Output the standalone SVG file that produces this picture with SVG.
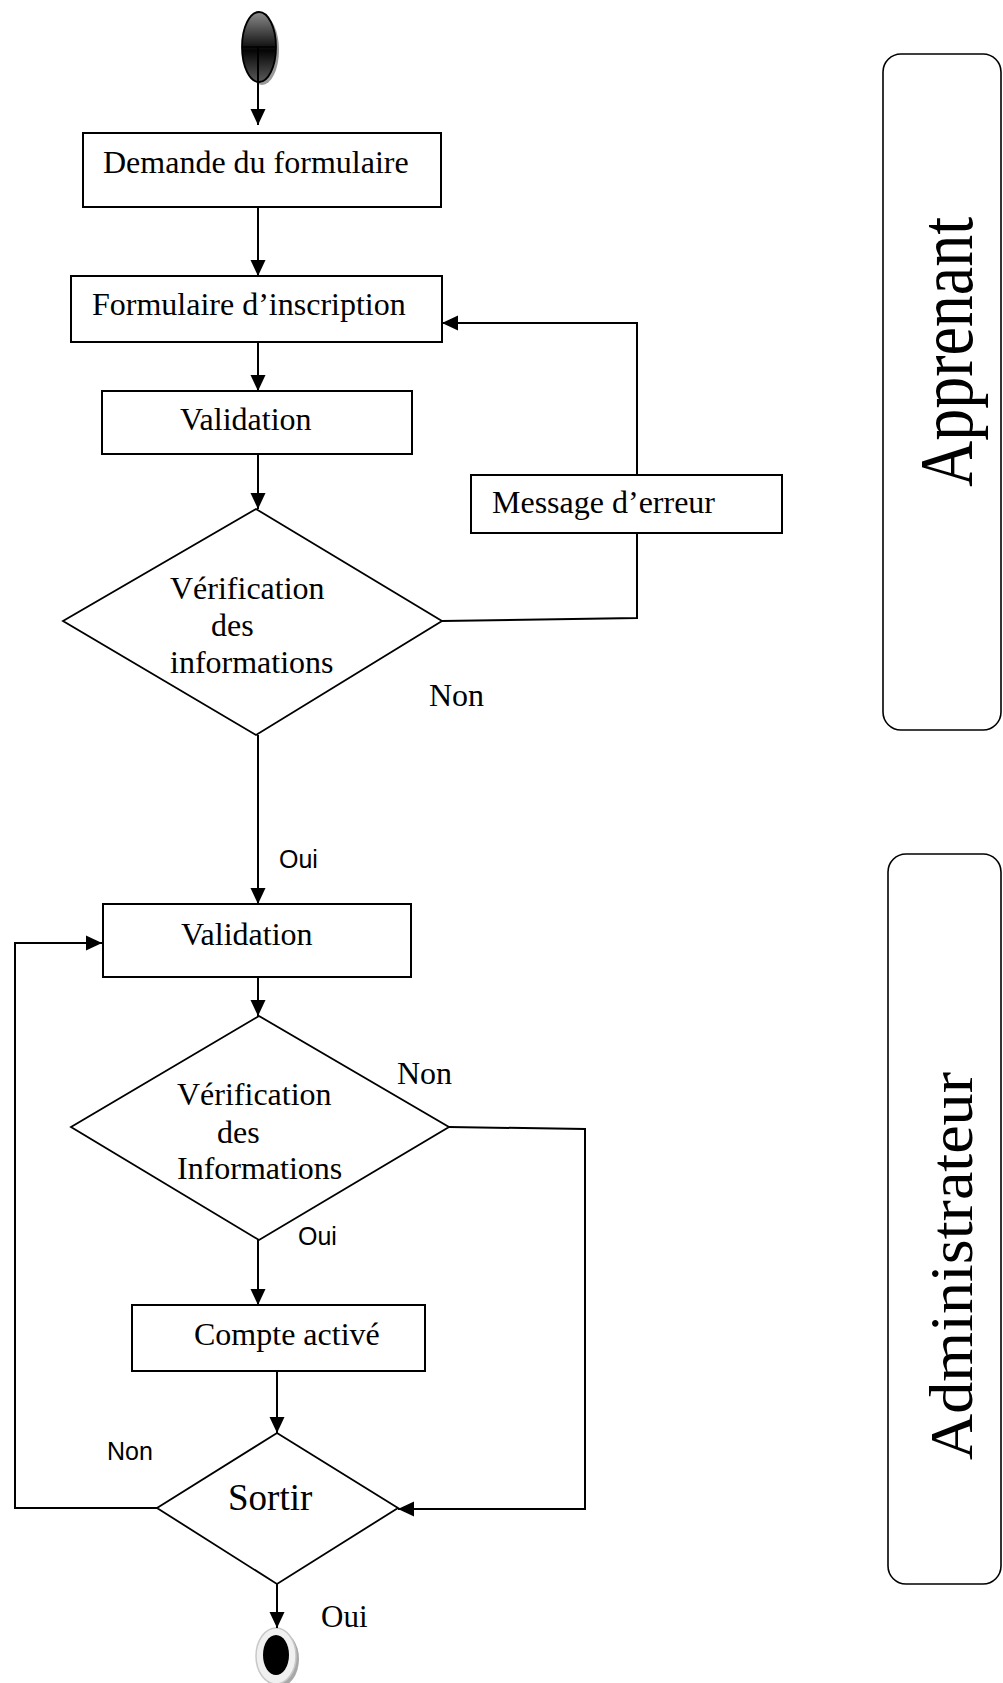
<svg xmlns="http://www.w3.org/2000/svg" width="1003" height="1683" viewBox="0 0 1003 1683">
  <defs>
    <style>
      .box { fill: #fff; stroke: #000; stroke-width: 2; }
      .dia { fill: #fff; stroke: #000; stroke-width: 1.8; }
      .lane { fill: #fff; stroke: #000; stroke-width: 1.6; }
      .edge { fill: none; stroke: #000; stroke-width: 2; }
      .serif { font-family: "Liberation Serif", "Times New Roman", serif; fill: #000; }
      .sans { font-family: "Liberation Sans", Arial, sans-serif; fill: #000; }
      .t32 { font-size: 32px; }
    </style>
    <marker id="arrow" markerUnits="userSpaceOnUse" markerWidth="18" markerHeight="18" viewBox="0 0 18 18" refX="16" refY="9" orient="auto">
      <path d="M0,1.5 L16,9 L0,16.5 Z" fill="#000"/>
    </marker>
    <linearGradient id="startFill" x1="0" y1="0" x2="0" y2="1">
      <stop offset="0" stop-color="#8c8c8c"/>
      <stop offset="0.45" stop-color="#1e1e1e"/>
      <stop offset="0.55" stop-color="#050505"/>
      <stop offset="1" stop-color="#5a5a5a"/>
    </linearGradient>
  </defs>

  <!-- swimlane labels -->
  <g id="lane-apprenant">
    <rect class="lane" x="883" y="54" width="118" height="676" rx="18" ry="18"/>
    <text class="serif" transform="translate(972,352) rotate(-90)" text-anchor="middle" font-size="76" textLength="270" lengthAdjust="spacingAndGlyphs">Apprenant</text>
  </g>
  <g id="lane-administrateur">
    <rect class="lane" x="888" y="854" width="113" height="730" rx="18" ry="18"/>
    <text class="serif" transform="translate(972,1266) rotate(-90)" text-anchor="middle" font-size="61" textLength="388" lengthAdjust="spacingAndGlyphs">Administrateur</text>
  </g>

  <!-- start state -->
  <g id="start">
    <ellipse cx="262" cy="50" rx="17" ry="35" fill="#9a9a9a"/>
    <ellipse cx="259" cy="47" rx="17" ry="35" fill="url(#startFill)" stroke="#000" stroke-width="1.8"/>
    <line x1="242" y1="47" x2="276" y2="47" stroke="#000" stroke-width="1.5"/>
  </g>

  <g id="demande">
    <rect class="box" x="83" y="133" width="358" height="74"/>
    <text class="serif t32" x="103" y="173">Demande du formulaire</text>
  </g>

  <g id="formulaire">
    <rect class="box" x="71" y="276" width="371" height="66"/>
    <text class="serif t32" x="92" y="315">Formulaire d’inscription</text>
  </g>

  <g id="validation1">
    <rect class="box" x="102" y="391" width="310" height="63"/>
    <text class="serif t32" x="180" y="430">Validation</text>
  </g>

  <g id="verification1">
    <polygon class="dia" points="256,509 442,621 256,735 63,621"/>
    <text class="serif t32" x="170" y="599">Vérification</text>
    <text class="serif t32" x="211" y="636">des</text>
    <text class="serif t32" x="170" y="673">informations</text>
  </g>

  <g id="message-erreur">
    <rect class="box" x="471" y="475" width="311" height="58"/>
    <text class="serif t32" x="492" y="513">Message d’erreur</text>
  </g>

  <g id="validation2">
    <rect class="box" x="103" y="904" width="308" height="73"/>
    <text class="serif t32" x="181" y="945">Validation</text>
  </g>

  <g id="verification2">
    <polygon class="dia" points="259,1016 449,1127 259,1240 71,1127"/>
    <text class="serif t32" x="177" y="1105">Vérification</text>
    <text class="serif t32" x="217" y="1143">des</text>
    <text class="serif t32" x="177" y="1179">Informations</text>
  </g>

  <g id="compte-active">
    <rect class="box" x="132" y="1305" width="293" height="66"/>
    <text class="serif t32" x="194" y="1345">Compte activé</text>
  </g>

  <g id="sortir">
    <polygon class="dia" points="277,1433 398,1508 277,1584 157,1508"/>
    <text class="serif" font-size="37" x="228" y="1510">Sortir</text>
  </g>

  <!-- final state -->
  <g id="end">
    <ellipse cx="279" cy="1659" rx="20" ry="28" fill="#a8a8a8"/>
    <ellipse cx="276" cy="1656" rx="20" ry="28" fill="#f0f0f0" stroke="#c8c8c8" stroke-width="1.5"/>
    <ellipse cx="276" cy="1655" rx="13" ry="20" fill="#000"/>
  </g>

  <!-- connectors -->
  <g id="connectors">
    <path class="edge" d="M258,47 V125" marker-end="url(#arrow)"/>
    <path class="edge" d="M258,207 V276" marker-end="url(#arrow)"/>
    <path class="edge" d="M258,342 V391" marker-end="url(#arrow)"/>
    <path class="edge" d="M258,454 V509" marker-end="url(#arrow)"/>
    <path class="edge" d="M442,621 L637,618 V533"/>
    <path class="edge" d="M637,475 V323 H442" marker-end="url(#arrow)"/>
    <path class="edge" d="M258,735 V904" marker-end="url(#arrow)"/>
    <path class="edge" d="M258,977 V1016" marker-end="url(#arrow)"/>
    <path class="edge" d="M258,1240 V1305" marker-end="url(#arrow)"/>
    <path class="edge" d="M449,1127 L585,1129 V1509 H398" marker-end="url(#arrow)"/>
    <path class="edge" d="M277,1371 V1433" marker-end="url(#arrow)"/>
    <path class="edge" d="M157,1508 H15 V943 H102" marker-end="url(#arrow)"/>
    <path class="edge" d="M277,1584 V1628" marker-end="url(#arrow)"/>
  </g>

  <!-- branch labels -->
  <g id="labels">
    <text class="serif t32" x="429" y="706">Non</text>
    <text class="sans" font-size="25" x="279" y="868">Oui</text>
    <text class="serif t32" x="397" y="1084">Non</text>
    <text class="sans" font-size="25" x="298" y="1245">Oui</text>
    <text class="sans" font-size="25" x="107" y="1460">Non</text>
    <text class="serif" font-size="31" x="321" y="1627">Oui</text>
  </g>
</svg>
